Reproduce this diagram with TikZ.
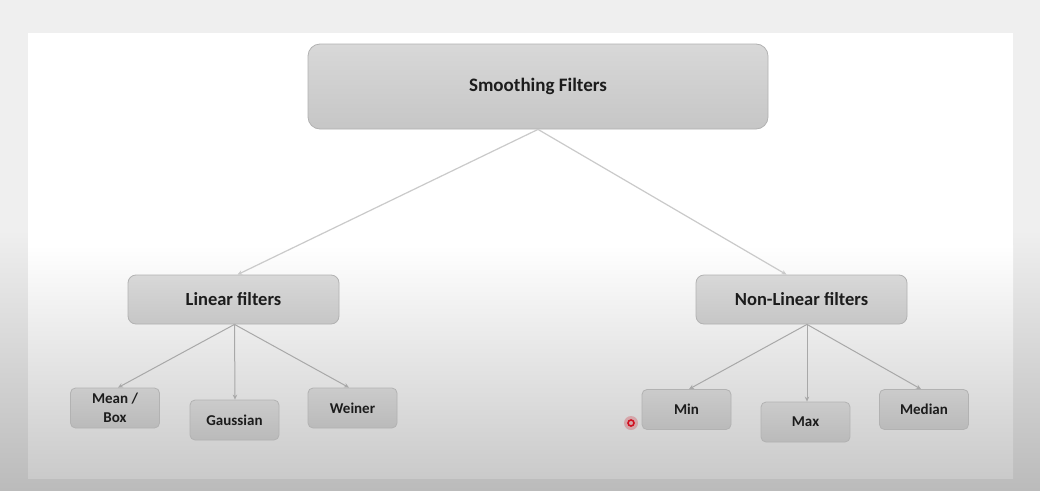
\documentclass[tikz,border=0pt]{standalone}
\usepackage{fontspec}
\setmainfont{Carlito}
\usetikzlibrary{arrows.meta,calc}
\definecolor{bgtop}{HTML}{EFEFEF}
\definecolor{bgbot}{HTML}{BBBBBB}
\definecolor{slidebot}{HTML}{CACACA}
\definecolor{boxtop}{HTML}{D8D8D8}
\definecolor{boxbot}{HTML}{C6C6C6}
\definecolor{kidtop}{HTML}{CBCBCB}
\definecolor{kidbot}{HTML}{BABABA}
\definecolor{boxline}{HTML}{B2B2B2}
\definecolor{arrowtop}{HTML}{CACACA}
\definecolor{arrowc}{HTML}{A8A8A8}
\definecolor{txt}{HTML}{1C1C1C}
\definecolor{cursor}{HTML}{D01020}
\tikzset{
  bigbox/.style={draw=boxline, line width=0.8pt, rounded corners=12pt, top color=boxtop, bottom color=boxbot,
    text=txt, font=\fontsize{19}{22}\selectfont\bfseries, inner sep=0pt},
  midbox/.style={draw=boxline, line width=0.8pt, rounded corners=8pt, top color=boxtop, bottom color=boxbot,
    text=txt, font=\fontsize{18.5}{22}\selectfont\bfseries, inner sep=0pt, minimum width=211pt, minimum height=49pt},
  kidbox/.style={draw=boxline, line width=0.8pt, rounded corners=5pt, top color=kidtop, bottom color=kidbot,
    text=txt, font=\fontsize{15}{19}\selectfont\bfseries, inner sep=0pt, align=center,
    minimum width=89pt, minimum height=40pt},
  conn/.style={draw=arrowc, line width=1pt, -{Stealth[length=5pt,width=4.5pt]}},
  conntop/.style={conn, draw=arrowtop, line width=1.2pt}
}
\begin{document}
\begin{tikzpicture}[x=1pt,y=-1pt]
\useasboundingbox (0,0) rectangle (1040,490);
% screen background
\fill[bgtop] (0,0) rectangle (1040,490);
\shade[top color=bgtop, bottom color=bgbot] (0,230) rectangle (1040,490);
% slide
\fill[white] (28,33) rectangle (1013,478);
\shade[top color=white, bottom color=slidebot] (28,245) rectangle (1013,478);

% nodes
\node[bigbox, minimum width=460pt, minimum height=85pt] (top) at (538,86.5) {Smoothing Filters};
\node[midbox] (lin) at (233.5,299.5) {Linear filters};
\node[midbox] (nl) at (801.5,299.5) {Non-Linear filters};
\node[kidbox] (mean) at (115,408) {Mean /\\Box};
\node[kidbox] (gauss) at (234.5,420) {Gaussian};
\node[kidbox] (wein) at (352.5,408) {Weiner};
\node[kidbox] (min) at (686.5,409.5) {Min};
\node[kidbox] (max) at (805.5,422) {Max};
\node[kidbox] (med) at (924,409.5) {Median};

% connectors
\draw[conntop] (top.south) -- ([xshift=4pt]lin.north);
\draw[conntop] (top.south) -- ([xshift=-15pt]nl.north);
\draw[conn] ([xshift=1pt]lin.south) -- ([xshift=3pt]mean.north);
\draw[conn] ([xshift=1pt]lin.south) -- ([xshift=0.5pt]gauss.north);
\draw[conn] ([xshift=1pt]lin.south) -- ([xshift=-3.5pt]wein.north);
\draw[conn] ([xshift=5.5pt]nl.south) -- ([xshift=2.5pt]min.north);
\draw[conn] ([xshift=5.5pt]nl.south) -- ([xshift=1.5pt]max.north);
\draw[conn] ([xshift=5.5pt]nl.south) -- ([xshift=-3pt]med.north);

% cursor highlight
\coordinate (cur) at (631,423);
\fill[cursor, opacity=0.25] (cur) circle (7pt);
\draw[cursor, line width=1.6pt] (cur) circle (3pt);
\end{tikzpicture}
\end{document}
